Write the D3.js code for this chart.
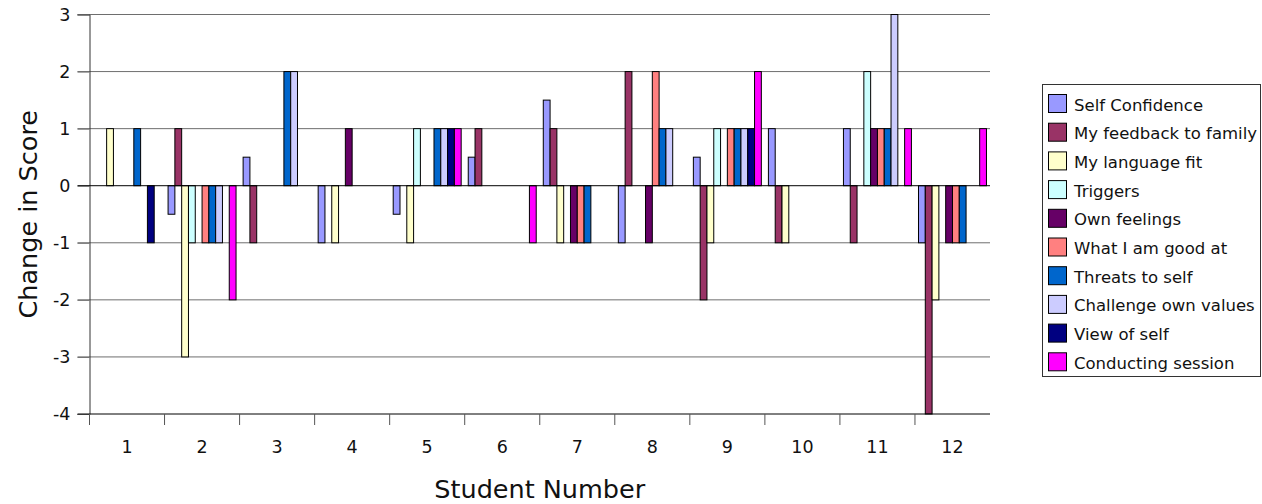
<!DOCTYPE html>
<html>
<head>
<meta charset="utf-8">
<script src="https://cdn.jsdelivr.net/npm/d3@7"></script>
<style>
  html, body { margin: 0; padding: 0; background: #fff; }
  svg { display: block; font-family: "DejaVu Sans", sans-serif; }
</style>
</head>
<body>
<svg id="chart" width="1262" height="504"></svg>
<script>
// Categories (students) and series names
const students = ["1", "2", "3", "4", "5", "6", "7", "8", "9", "10", "11", "12"];
const seriesNames = [
  "Self Confidence", "My feedback to family", "My language fit", "Triggers",
  "Own feelings", "What I am good at", "Threats to self",
  "Challenge own values", "View of self", "Conducting session"
];
const seriesColors = [
  "#9999FF", "#993366", "#FFFFCC", "#CCFFFF", "#660066",
  "#FF8080", "#0066CC", "#CCCCFF", "#000080", "#FF00FF"
];

// Change in score per student, one array per series
const selfConfidence  = [0, -0.5, 0.5, -1, -0.5, 0.5, 1.5, -1, 0.5, 1, 1, -1];
const feedbackFamily  = [0, 1, -1, 0, 0, 1, 1, 2, -2, -1, -1, -4];
const languageFit     = [1, -3, 0, -1, -1, 0, -1, 0, -1, -1, 0, -2];
const triggers        = [0, -1, 0, 0, 1, 0, 0, 0, 1, 0, 2, 0];
const ownFeelings     = [0, 0, 0, 1, 0, 0, -1, -1, 0, 0, 1, -1];
const goodAt          = [0, -1, 0, 0, 0, 0, -1, 2, 1, 0, 1, -1];
const threatsToSelf   = [1, -1, 2, 0, 1, 0, -1, 1, 1, 0, 1, -1];
const challengeValues = [0, -1, 2, 0, 1, 0, 0, 1, 1, 0, 3, 0];
const viewOfSelf      = [-1, 0, 0, 0, 1, 0, 0, 0, 1, 0, 0, 0];
const conducting      = [0, -2, 0, 0, 1, -1, 0, 0, 2, 0, 1, 1];

const seriesValues = [
  selfConfidence, feedbackFamily, languageFit, triggers, ownFeelings,
  goodAt, threatsToSelf, challengeValues, viewOfSelf, conducting
];

// Y-axis tick values
const yTicks = [-4, -3, -2, -1, 0, 1, 2, 3];

const svg = d3.select("#chart");

const plot = { left: 89.5, right: 990, top: 14.5, bottom: 414 };

const x0 = d3.scaleBand()
  .domain(students)
  .range([plot.left, plot.right])
  .padding(0);

const x1 = d3.scaleBand()
  .domain(seriesNames)
  .range([0, x0.bandwidth()])
  .paddingInner(0)
  .paddingOuter(0.52);

const y = d3.scaleLinear()
  .domain([-4, 3])
  .range([plot.bottom, plot.top]);

const color = d3.scaleOrdinal().domain(seriesNames).range(seriesColors);

// Horizontal gridlines
svg.append("g")
  .selectAll("line")
  .data(yTicks.filter(t => t !== 0 && t !== -4))
  .join("line")
  .attr("x1", plot.left - 12)
  .attr("x2", plot.right)
  .attr("y1", d => y(d))
  .attr("y2", d => y(d))
  .attr("stroke", "#6e6e6e")
  .attr("stroke-width", 1);

// Y-axis with labels (plain hyphen for negatives)
const yAxis = d3.axisLeft(y)
  .tickValues(yTicks)
  .tickSize(12)
  .tickPadding(7)
  .tickFormat(d => String(d));

const yAxisG = svg.append("g")
  .attr("transform", `translate(${plot.left},0)`)
  .call(yAxis);
yAxisG.select(".domain").attr("stroke", "#333");
yAxisG.selectAll(".tick line").attr("stroke", "#6e6e6e");
yAxisG.selectAll(".tick text")
  .attr("font-family", "DejaVu Sans, sans-serif")
  .attr("font-size", 17.5)
  .attr("fill", "#111");

// Bars
const groups = svg.append("g")
  .selectAll("g")
  .data(students)
  .join("g")
  .attr("transform", d => `translate(${x0(d)},0)`);

groups.selectAll("rect")
  .data((d, i) => seriesNames.map((name, k) => ({ name, value: seriesValues[k][i] })))
  .join("rect")
  .attr("x", d => x1(d.name))
  .attr("width", x1.bandwidth())
  .attr("y", d => y(Math.max(0, d.value)))
  .attr("height", d => Math.abs(y(d.value) - y(0)))
  .attr("fill", d => color(d.name))
  .attr("stroke", "#000")
  .attr("stroke-width", 1);

// Zero line
svg.append("line")
  .attr("x1", plot.left - 12)
  .attr("x2", plot.right)
  .attr("y1", y(0))
  .attr("y2", y(0))
  .attr("stroke", "#000")
  .attr("stroke-width", 1);

// Category axis along the bottom, ticks between students
svg.append("line")
  .attr("x1", plot.left - 12)
  .attr("x2", plot.right)
  .attr("y1", plot.bottom)
  .attr("y2", plot.bottom)
  .attr("stroke", "#000");

svg.append("g")
  .selectAll("line")
  .data(students)
  .join("line")
  .attr("x1", d => x0(d))
  .attr("x2", d => x0(d))
  .attr("y1", plot.bottom)
  .attr("y2", plot.bottom + 11)
  .attr("stroke", "#555");

svg.append("g")
  .selectAll("text")
  .data(students)
  .join("text")
  .attr("x", d => x0(d) + x0.bandwidth() / 2)
  .attr("y", 453)
  .attr("text-anchor", "middle")
  .attr("font-size", 17.5)
  .attr("fill", "#111")
  .text(d => d);

// Axis titles
svg.append("text")
  .attr("x", (plot.left + plot.right) / 2)
  .attr("y", 498)
  .attr("text-anchor", "middle")
  .attr("font-size", 25.5)
  .attr("fill", "#111")
  .text("Student Number");

svg.append("text")
  .attr("transform", `translate(37,${(plot.top + plot.bottom) / 2}) rotate(-90)`)
  .attr("text-anchor", "middle")
  .attr("font-size", 25.5)
  .attr("fill", "#111")
  .text("Change in Score");

// Legend
const legend = svg.append("g");
legend.append("rect")
  .attr("x", 1042.5)
  .attr("y", 84.5)
  .attr("width", 218)
  .attr("height", 292)
  .attr("fill", "#fff")
  .attr("stroke", "#333");

const items = legend.selectAll("g.item")
  .data(seriesNames)
  .join("g")
  .attr("class", "item")
  .attr("transform", (d, i) => `translate(1048.5,${94.5 + i * 28.7})`);

items.append("rect")
  .attr("width", 18)
  .attr("height", 18)
  .attr("fill", d => color(d))
  .attr("stroke", "#000");

items.append("text")
  .attr("x", 25.5)
  .attr("y", 16)
  .attr("font-size", 16.5)
  .attr("fill", "#111")
  .text(d => d);
</script>
</body>
</html>
